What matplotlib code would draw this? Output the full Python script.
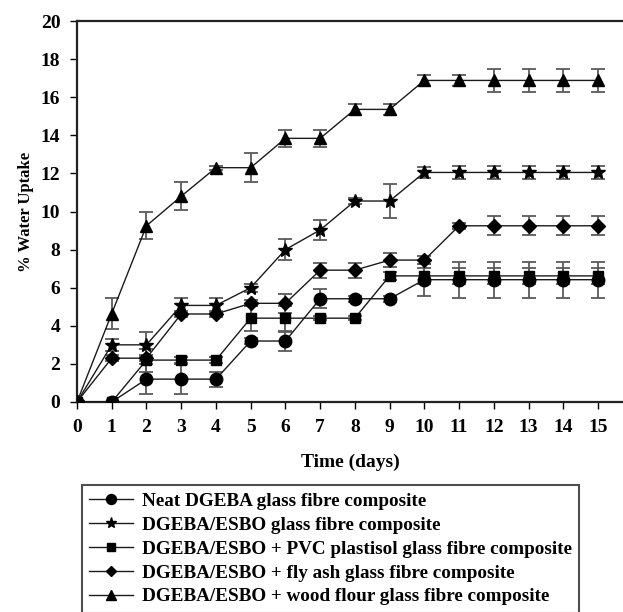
import matplotlib
matplotlib.use("Agg")
import matplotlib.pyplot as plt
import numpy as np

days = list(range(16))

neat = [0, 0, 1.2, 1.2, 1.2, 3.2, 3.2, 5.42, 5.42, 5.42, 6.42, 6.42, 6.42, 6.42, 6.42, 6.42]
neat_err = [0, 0, 0.77, 0.77, 0.4, 0.15, 0.5, 0.5, 0.15, 0.15, 0.85, 0.95, 0.95, 0.95, 0.95, 0.95]

esbo = [0, 3.0, 3.0, 5.07, 5.07, 6.0, 8.0, 9.03, 10.55, 10.55, 12.05, 12.05, 12.05, 12.05, 12.05, 12.05]
esbo_err = [0, 0.3, 0.65, 0.4, 0.4, 0.2, 0.55, 0.5, 0.15, 0.9, 0.3, 0.35, 0.35, 0.35, 0.35, 0.35]

pvc = [0, 0, 2.2, 2.2, 2.2, 4.4, 4.4, 4.4, 4.4, 6.62, 6.62, 6.62, 6.62, 6.62, 6.62, 6.62]
pvc_err = [0, 0, 0.6, 0.15, 0.15, 0.65, 0.65, 0.12, 0.12, 0.2, 0.4, 0.4, 0.4, 0.4, 0.4, 0.4]

flyash = [0, 2.3, 2.3, 4.62, 4.62, 5.18, 5.18, 6.92, 6.92, 7.45, 7.45, 9.25, 9.25, 9.25, 9.25, 9.25]
flyash_err = [0, 0.15, 0.15, 0.15, 0.15, 0.15, 0.5, 0.4, 0.4, 0.35, 0.2, 0.15, 0.5, 0.5, 0.5, 0.5]

wood = [0, 4.64, 9.25, 10.8, 12.3, 12.3, 13.84, 13.84, 15.36, 15.36, 16.88, 16.88, 16.88, 16.88, 16.88, 16.88]
wood_err = [0, 0.8, 0.7, 0.73, 0.1, 0.75, 0.45, 0.45, 0.3, 0.3, 0.3, 0.3, 0.6, 0.6, 0.6, 0.6]

labels = [
    "Neat DGEBA glass fibre composite",
    "DGEBA/ESBO glass fibre composite",
    "DGEBA/ESBO + PVC plastisol glass fibre composite",
    "DGEBA/ESBO + fly ash glass fibre composite",
    "DGEBA/ESBO + wood flour glass fibre composite",
]

xticks = list(range(16))
yticks = list(range(0, 21, 2))

plt.rcParams['font.family'] = ['Liberation Serif', 'DejaVu Serif']
plt.rcParams['font.weight'] = 'bold'

fig = plt.figure(figsize=(6.23, 6.12), dpi=100)
ax = fig.add_axes([77/623, 1-402/612, 1-77/623, (402-21)/612])

series = [(neat, neat_err, 'o', 9), (esbo, esbo_err, '*', 10),
          (pvc, pvc_err, 's', 7.5), (flyash, flyash_err, 'D', 7), (wood, wood_err, '^', 9)]
handles = []
for (vals, errs, m, ms), lab in zip(series, labels):
    ax.errorbar(days, vals, yerr=errs, fmt='none', ecolor='#5a5a5a', elinewidth=1.3,
                capsize=5, capthick=1.3, zorder=2)
    h, = ax.plot(days, vals, color='#1a1a1a', lw=1.0, marker=m, ms=ms,
                 markerfacecolor='black', markeredgecolor='black', zorder=3, label=lab)
    handles.append(h)

ax.set_xlim(0, 15.72)
ax.set_ylim(0, 20)
ax.set_xticks(xticks)
ax.set_yticks(yticks)
ax.tick_params(direction='out', length=5, width=1, labelsize=14, pad=7)
for lab in ax.get_xticklabels() + ax.get_yticklabels():
    lab.set_fontweight('bold')
ax.spines['right'].set_visible(False)
for s in ['left', 'top', 'bottom']:
    ax.spines[s].set_linewidth(1.6)
    ax.spines[s].set_color('#222222')

ax.set_xlabel("Time (days)", fontsize=14, fontweight='bold', labelpad=13)
ax.set_ylabel("% Water Uptake", fontsize=12, fontweight='bold', labelpad=5)

leg = fig.legend(handles=handles, labels=labels, loc='upper left',
                 bbox_to_anchor=(82/623, 1-485/612), frameon=True, fancybox=False,
                 prop={'family': 'Liberation Serif', 'weight': 'bold', 'size': 13.8},
                 handlelength=2.3, labelspacing=0.34, borderpad=0.38, handletextpad=0.45,
                 borderaxespad=0, markerscale=0.8)
leg.get_frame().set_edgecolor('#222222')
leg.get_frame().set_linewidth(1.5)

fig.savefig("out.png", dpi=100)
